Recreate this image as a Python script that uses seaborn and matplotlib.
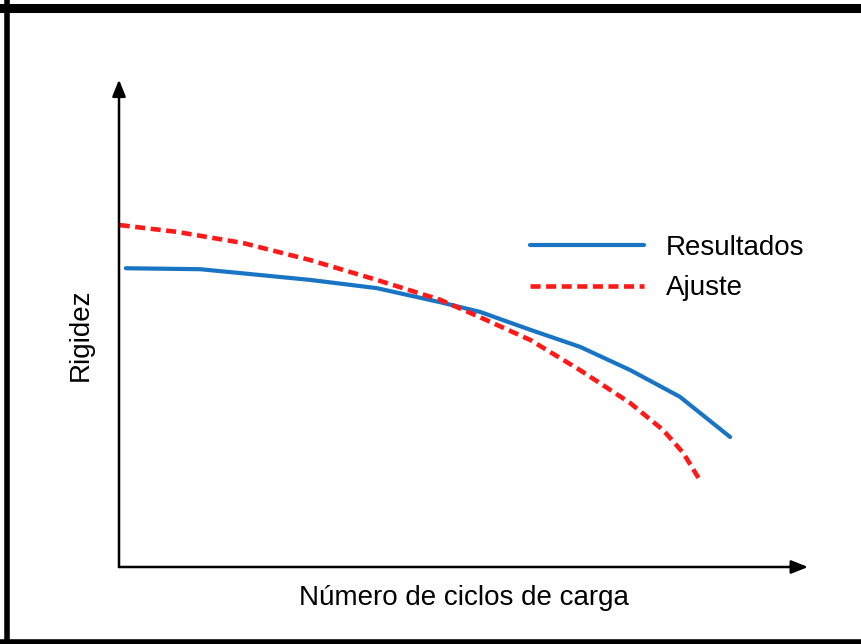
import pandas as pd
import seaborn as sns
import matplotlib.pyplot as plt
from matplotlib.lines import Line2D

# values (normalised 0-100 scale on both axes)
ciclos_res = [1.0, 11.8, 27.7, 37.4, 46.6, 52.4, 59.7, 66.9, 74.2, 81.4, 88.7]
rigidez_res = [61.6, 61.4, 59.2, 57.5, 54.6, 52.6, 48.9, 45.4, 40.6, 35.1, 26.8]
ciclos_aj = [0.1, 8.4, 18.0, 27.7, 37.4, 46.6, 52.4, 59.7, 66.9, 74.2, 79.0, 81.9, 84.3]
rigidez_aj = [70.5, 69.1, 66.8, 63.3, 59.2, 55.1, 51.5, 46.8, 40.6, 33.8, 28.2, 23.5, 17.9]
series = ["Resultados", "Ajuste"]

df = pd.concat([
    pd.DataFrame({"x": ciclos_res, "y": rigidez_res, "serie": series[0]}),
    pd.DataFrame({"x": ciclos_aj, "y": rigidez_aj, "serie": series[1]}),
])

sns.set_style("white")
plt.rcParams["font.family"] = ["Liberation Sans", "DejaVu Sans"]
plt.rcParams["text.color"] = "black"
plt.rcParams["axes.labelcolor"] = "black"

fig = plt.figure(figsize=(8.62, 6.44), dpi=100)
ax = fig.add_axes([119 / 862, 77 / 644, 689 / 862, 485 / 644])

sns.lineplot(data=df, x="x", y="y", hue="serie", style="serie", ax=ax,
             palette={"Resultados": "#1a74c4", "Ajuste": "#ff1a1a"},
             dashes={"Resultados": "", "Ajuste": (2.2, 1.2)},
             sort=False, estimator=None, legend=False)
for ln, lw in zip(ax.lines, [3.0, 3.3]):
    ln.set_linewidth(lw)
    ln.set_solid_capstyle("round")
    ln.set_solid_joinstyle("round")

ax.set_xlim(0, 100)
ax.set_ylim(0, 100)
ax.set_xticks([])
ax.set_yticks([])
for s in ax.spines.values():
    s.set_visible(False)

# axes with arrows
arrow = dict(arrowstyle="-|>,head_length=1.0,head_width=0.4",
             color="black", lw=1.8, shrinkA=0, shrinkB=0)
ax.annotate("", xy=(1.0, 0), xytext=(0, 0), xycoords="axes fraction",
            arrowprops=arrow)
ax.annotate("", xy=(0, 1.005), xytext=(0, 0), xycoords="axes fraction",
            arrowprops=arrow)

ax.set_xlabel("Número de ciclos de carga", fontsize=20, labelpad=13)
ax.set_ylabel("Rigidez", fontsize=20)
ax.yaxis.set_label_coords(-0.036, 0.478)

handles = [Line2D([], [], color="#1a74c4", lw=3.0),
           Line2D([], [], color="#ff1a1a", lw=3.3, dashes=(2.2, 1.2))]
ax.legend(handles, series, frameon=False, fontsize=20, handlelength=4.1,
          handletextpad=0.8, labelspacing=0.52, borderpad=0, borderaxespad=0,
          loc="upper left", bbox_to_anchor=(530 / 862, 1 - 235 / 644),
          bbox_transform=fig.transFigure)

# black frame on top, left and bottom
fig.add_artist(Line2D([0, 1], [1 - 7.5 / 644] * 2, color="black", lw=6.5,
                      transform=fig.transFigure))
fig.add_artist(Line2D([7.5 / 862] * 2, [0, 1], color="black", lw=4,
                      transform=fig.transFigure))
fig.add_artist(Line2D([0, 1], [2.5 / 644] * 2, color="black", lw=4,
                      transform=fig.transFigure))

plt.savefig("out.png", dpi=100)
plt.close()
